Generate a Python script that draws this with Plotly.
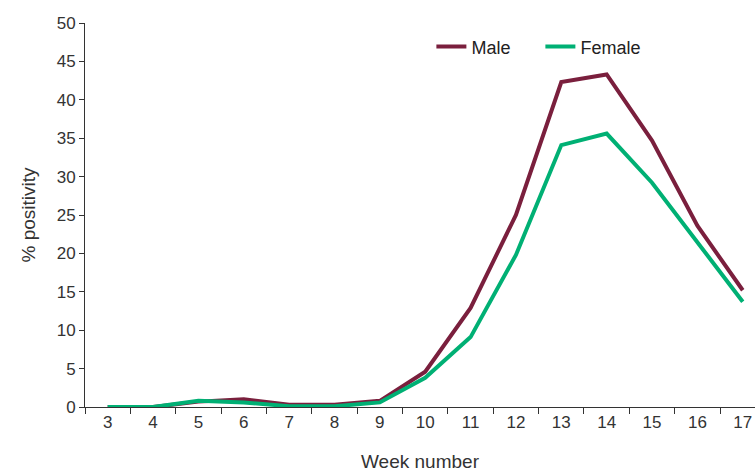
import plotly.graph_objects as go

weeks = [str(w) for w in range(3, 18)]
male = [0, 0, 0.7, 1.0, 0.3, 0.3, 0.8, 4.6, 12.9, 25.0, 42.3, 43.3, 34.7, 23.6, 15.2]
female = [0, 0, 0.8, 0.6, 0.1, 0.1, 0.6, 3.8, 9.1, 19.8, 34.1, 35.6, 29.2, 21.5, 13.7]

fig = go.Figure()
fig.add_trace(go.Scatter(x=weeks, y=male, name="Male", mode="lines",
                         line=dict(color="#7a1f3d", width=4)))
fig.add_trace(go.Scatter(x=weeks, y=female, name="Female", mode="lines",
                         line=dict(color="#00b074", width=4)))

fig.update_layout(
    width=755, height=472,
    margin=dict(l=85, r=0, t=23, b=65),
    paper_bgcolor="white", plot_bgcolor="white",
    font=dict(family="Liberation Sans, Arial, sans-serif", size=17, color="#333333"),
    showlegend=True,
    legend=dict(orientation="h", x=0.517, y=0.938, xanchor="left", yanchor="middle",
                bgcolor="rgba(0,0,0,0)", font=dict(size=18, color="#222222"),
                entrywidth=64, entrywidthmode="pixels"),
    xaxis=dict(
        type="category", range=[-0.5, 14.27], tickson="boundaries", automargin=False,
        showline=True, linecolor="#333333", linewidth=1,
        ticks="outside", ticklen=6, tickcolor="#333333",
        showgrid=False, zeroline=False,
        title=dict(text="Week number", font=dict(size=19), standoff=23),
    ),
    yaxis=dict(
        range=[0, 50], dtick=5, automargin=False,
        showline=True, linecolor="#333333", linewidth=1,
        ticks="outside", ticklen=5, tickcolor="#333333",
        showgrid=False, zeroline=False,
        title=dict(text="% positivity", font=dict(size=19), standoff=16),
    ),
)

# drop the browser's default 8px body margin so the figure fills the window
fig.write_html("out.html", config={"displayModeBar": False},
               post_script="document.body.style.margin='0';")
